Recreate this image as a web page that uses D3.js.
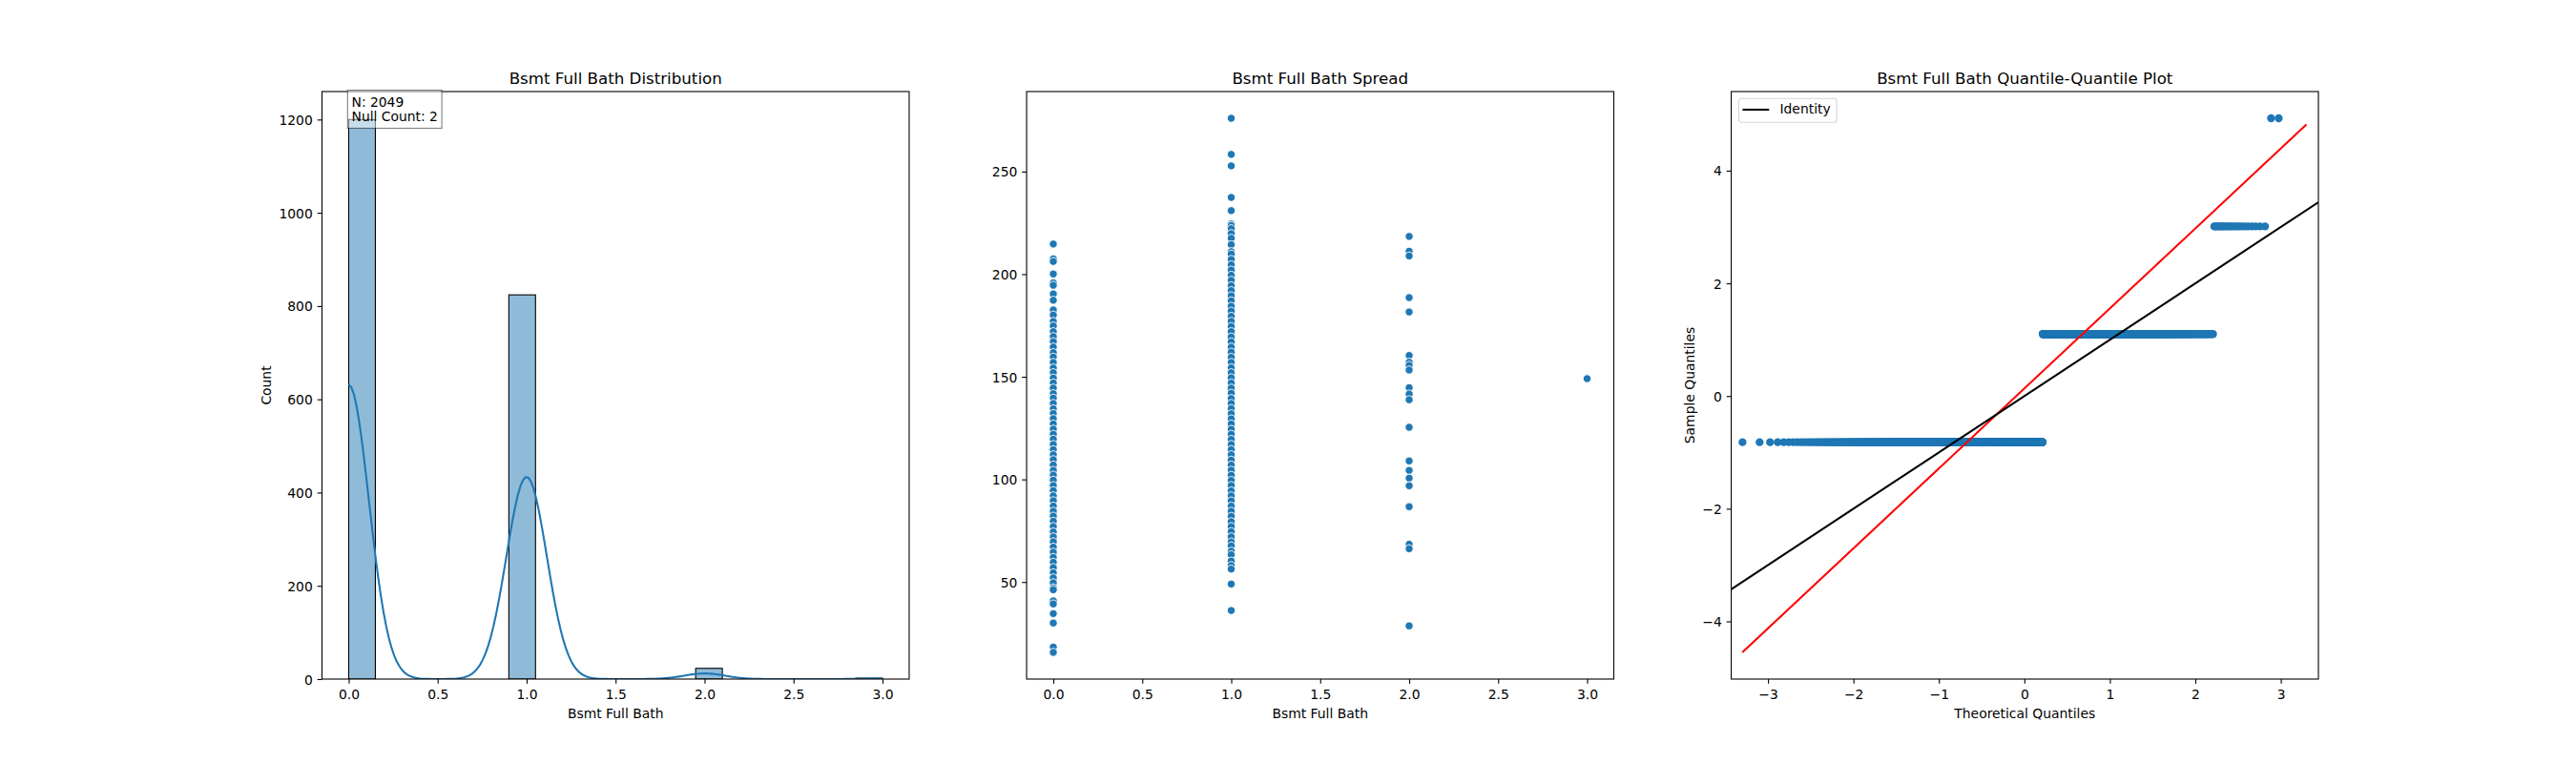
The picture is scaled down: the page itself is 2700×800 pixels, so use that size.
<!DOCTYPE html>
<html>
<head>
<meta charset="utf-8">
<script src="https://cdn.jsdelivr.net/npm/d3@7"></script>
<style>
  body { margin: 0; background: #fff; }
  svg text { font-family: "DejaVu Sans", sans-serif; }
</style>
</head>
<body>
<div id="chart"></div>
<script>
// ---- data ----
const varName = "Bsmt Full Bath";

// histogram: one bar per occupied bin (bin width 0.15 over 0..3)
const histValues = [0, 1, 2, 3];
const histCounts = [1200, 824, 23, 2];
const histBinStarts = [0, 0.9, 1.95, 2.85];
const histBinWidth = 0.15;
const nullCount = 2;
const histXTicks = [0, 0.5, 1, 1.5, 2, 2.5, 3];
const histYTicks = [0, 200, 400, 600, 800, 1000, 1200];

// spread (scatter): y values per Bsmt Full Bath level
const spreadLevels = [0, 1, 2, 3];
const spreadY0 = [214.7, 207.5, 206.2, 200.1, 195.8, 194.6, 190.4, 187.3, 182.6, 180.1, 177.0, 174.8,
  172.0, 169.6, 167.1, 164.5, 161.8, 159.6, 157.0, 154.3, 152.0, 149.4, 147.0, 144.5, 141.8, 139.6,
  137.0, 134.4, 132.1, 129.6, 127.0, 124.5, 122.0, 119.6, 117.0, 114.5, 112.0, 109.6, 107.0, 104.4,
  102.1, 99.6, 97.0, 94.5, 92.0, 89.6, 87.0, 84.5, 82.1, 79.6, 77.0, 74.4, 72.0, 69.6, 67.0, 64.5,
  62.0, 59.6, 57.0, 54.5, 52.0, 49.6, 47.1, 46.2, 40.8, 39.3, 34.6, 30.0, 18.3, 15.7];
const spreadY1 = [276.0, 258.4, 252.8, 237.4, 231.0, 224.5, 223.7, 222.2, 219.8, 217.5, 214.4, 211.0,
  209.8, 207.2, 204.6, 202.0, 199.5, 197.0, 194.4, 192.0, 189.5, 187.0, 184.4, 182.0, 179.5, 177.0,
  174.5, 172.0, 169.4, 167.0, 164.5, 162.0, 159.5, 157.0, 154.4, 152.0, 149.5, 147.0, 144.5, 142.0,
  139.4, 137.0, 134.5, 132.0, 129.5, 127.0, 124.4, 122.0, 119.5, 117.0, 114.5, 112.0, 109.4, 107.0,
  104.5, 102.0, 99.5, 97.0, 94.4, 92.0, 89.5, 87.0, 84.5, 82.0, 79.4, 77.0, 74.5, 72.0, 69.5, 67.6,
  65.0, 63.3, 60.2, 58.0, 56.3, 49.0, 36.1];
const spreadY2 = [218.4, 211.2, 208.9, 188.6, 181.6, 160.4, 157.1, 155.6, 153.3, 144.7, 141.6, 138.8,
  125.4, 109.0, 104.4, 100.6, 96.9, 86.7, 68.4, 66.2, 28.6];
const spreadY3 = [149.1];
const spreadYTicks = [50, 100, 150, 200, 250];

// quantile-quantile: standardised sample levels (same order as histCounts)
const qqSampleLevels = [-0.82, 1.10, 3.01, 4.93];
const qqRedLine = [[-3.30, -4.55], [3.30, 4.82]];
const qqXDomain = [-3.43, 3.44];
const qqXTicks = [-3, -2, -1, 0, 1, 2, 3];
const qqYTicks = [-4, -2, 0, 2, 4];

// ---- layout (matplotlib defaults, 27x8 in @100dpi) ----
const W = 2700, H = 800;
const FS = 13.89, TFS = 16.67, TICK = 4.86, PAD = 4.86;
const axTop = 96, axBottom = 712, axH = axBottom - axTop;
const axW = (0.775 * W) / 3.4, gap = 0.2 * axW;
const axLefts = [0, 1, 2].map(i => 0.125 * W + i * (axW + gap));
const C0 = "#1f77b4";

const svg = d3.select("#chart").append("svg")
  .attr("width", W).attr("height", H);

function panel(i) {
  const g = svg.append("g").attr("transform", `translate(${axLefts[i]},${axTop})`);
  svg.append("clipPath").attr("id", "clip" + i)
    .append("rect").attr("width", axW).attr("height", axH);
  const body = g.append("g").attr("clip-path", `url(#clip${i})`);
  return { g, body };
}

function axes(g, x, y, xTicks, yTicks, xFmt, yFmt, title, xLabel, yLabel) {
  const xa = g.append("g").attr("transform", `translate(0,${axH})`)
    .call(d3.axisBottom(x).tickValues(xTicks).tickFormat(xFmt)
      .tickSizeInner(TICK).tickSizeOuter(0).tickPadding(6.2));
  const ya = g.append("g")
    .call(d3.axisLeft(y).tickValues(yTicks).tickFormat(yFmt)
      .tickSizeInner(TICK).tickSizeOuter(0).tickPadding(PAD));
  [xa, ya].forEach(a => {
    a.select(".domain").remove();
    a.attr("font-family", null).attr("font-size", null);
    a.selectAll("line").attr("stroke", "#000").attr("stroke-width", 1.1);
    a.selectAll("text").attr("fill", "#000").style("font-size", FS + "px");
  });
  ya.selectAll("text").attr("dy", "0.36em");

  // spines
  g.append("rect").attr("width", axW).attr("height", axH)
    .attr("fill", "none").attr("stroke", "#000").attr("stroke-width", 1.1);

  g.append("text").attr("x", axW / 2).attr("y", -8.5)
    .attr("text-anchor", "middle").style("font-size", TFS + "px").text(title);
  g.append("text").attr("x", axW / 2).attr("y", axH + 40.5)
    .attr("text-anchor", "middle").style("font-size", FS + "px").text(xLabel);

  if (yLabel) {
    let maxW = 0;
    ya.selectAll("text").each(function () { maxW = Math.max(maxW, this.getComputedTextLength()); });
    const lx = -(TICK + PAD + maxW + 5.56 + 3.3);
    g.append("text")
      .attr("transform", `translate(${lx},${axH / 2}) rotate(-90)`)
      .attr("text-anchor", "middle").style("font-size", FS + "px").text(yLabel);
  }
}

// ---- 1. distribution ----
{
  const { g, body } = panel(0);
  const x = d3.scaleLinear().domain([-0.15, 3.15]).range([0, axW]);
  const y = d3.scaleLinear().domain([0, d3.max(histCounts) * 1.05]).range([axH, 0]);

  body.selectAll("rect.bar").data(histCounts).enter().append("rect")
    .attr("class", "bar")
    .attr("x", (d, i) => x(histBinStarts[i]))
    .attr("width", x(histBinWidth) - x(0))
    .attr("y", d => y(d))
    .attr("height", d => y(0) - y(d))
    .attr("fill", C0).attr("fill-opacity", 0.5)
    .attr("stroke", "#000").attr("stroke-width", 1.1);

  // gaussian kde (scott bandwidth), scaled to counts like seaborn histplot
  const n = d3.sum(histCounts);
  const mean = d3.sum(histValues, (v, i) => v * histCounts[i]) / n;
  const variance = d3.sum(histValues, (v, i) => histCounts[i] * (v - mean) ** 2) / (n - 1);
  const bw = Math.sqrt(variance) * Math.pow(n, -0.2);
  const grid = d3.range(200).map(k => 3 * k / 199);
  const kde = grid.map(gx => {
    const dens = d3.sum(histValues, (v, i) =>
      histCounts[i] * Math.exp(-0.5 * ((gx - v) / bw) ** 2)) / (n * bw * Math.sqrt(2 * Math.PI));
    return [gx, dens * n * histBinWidth];
  });
  body.append("path").datum(kde)
    .attr("d", d3.line().x(d => x(d[0])).y(d => y(d[1])))
    .attr("fill", "none").attr("stroke", C0).attr("stroke-width", 2.08);

  axes(g, x, y, histXTicks, histYTicks, d3.format(".1f"), d3.format("d"),
    varName + " Distribution", varName, "Count");

  // stats box
  const tb = g.append("g");
  const txt = tb.append("text").style("font-size", FS + "px");
  txt.append("tspan").attr("x", 31).attr("y", 15.7).text("N: " + n);
  txt.append("tspan").attr("x", 31).attr("y", 31.3).text("Null Count: " + nullCount);
  const bb = txt.node().getBBox();
  tb.insert("rect", "text")
    .attr("x", bb.x - 4.17).attr("y", bb.y - 4.17)
    .attr("width", bb.width + 8.34).attr("height", bb.height + 8.34)
    .attr("fill", "#fff").attr("fill-opacity", 0.5)
    .attr("stroke", "#000").attr("stroke-opacity", 0.5).attr("stroke-width", 1.1);
}

// ---- 2. spread ----
{
  const { g, body } = panel(1);
  const groups = [spreadY0, spreadY1, spreadY2, spreadY3];
  const pts = groups.flatMap((ys, i) => ys.map(v => ({ x: spreadLevels[i], y: v })));
  const [lo, hi] = d3.extent(pts, d => d.y);
  const m = (hi - lo) * 0.05;
  const x = d3.scaleLinear().domain([-0.15, 3.15]).range([0, axW]);
  const y = d3.scaleLinear().domain([lo - m, hi + m]).range([axH, 0]);

  body.selectAll("circle").data(pts).enter().append("circle")
    .attr("cx", d => x(d.x)).attr("cy", d => y(d.y)).attr("r", 4.17)
    .attr("fill", C0).attr("stroke", "#fff").attr("stroke-width", 0.9);

  axes(g, x, y, histXTicks, spreadYTicks, d3.format(".1f"), d3.format("d"),
    varName + " Spread", varName, null);
}

// ---- 3. quantile-quantile ----
function probit(p) {
  const a = [-39.69683028665376, 220.9460984245205, -275.9285104469687, 138.3577518672690, -30.66479806614716, 2.506628277459239];
  const b = [-54.47609879822406, 161.5858368580409, -155.6989798598866, 66.80131188771972, -13.28068155288572];
  const c = [-0.007784894002430293, -0.3223964580411365, -2.400758277161838, -2.549732539343734, 4.374664141464968, 2.938163982698783];
  const d = [0.007784695709041462, 0.3224671290700398, 2.445134137142996, 3.754408661907416];
  const pl = 0.02425;
  if (p < pl) {
    const q = Math.sqrt(-2 * Math.log(p));
    return (((((c[0] * q + c[1]) * q + c[2]) * q + c[3]) * q + c[4]) * q + c[5]) / ((((d[0] * q + d[1]) * q + d[2]) * q + d[3]) * q + 1);
  }
  if (p > 1 - pl) {
    const q = Math.sqrt(-2 * Math.log(1 - p));
    return -(((((c[0] * q + c[1]) * q + c[2]) * q + c[3]) * q + c[4]) * q + c[5]) / ((((d[0] * q + d[1]) * q + d[2]) * q + d[3]) * q + 1);
  }
  const q = p - 0.5, r = q * q;
  return (((((a[0] * r + a[1]) * r + a[2]) * r + a[3]) * r + a[4]) * r + a[5]) * q / (((((b[0] * r + b[1]) * r + b[2]) * r + b[3]) * r + b[4]) * r + 1);
}

{
  const { g, body } = panel(2);
  // sorted sample, nulls sit at the end of the plotting positions
  const total = d3.sum(histCounts) + nullCount;
  const pts = [];
  let k = 1;
  qqSampleLevels.forEach((lv, i) => {
    for (let j = 0; j < histCounts[i]; j++, k++) pts.push([probit(k / (total + 1)), lv]);
  });

  const yLo = Math.min(qqRedLine[0][1], d3.min(pts, d => d[1]));
  const yHi = Math.max(qqRedLine[1][1], d3.max(pts, d => d[1]));
  const ym = (yHi - yLo) * 0.05;
  const x = d3.scaleLinear().domain(qqXDomain).range([0, axW]);
  const y = d3.scaleLinear().domain([yLo - ym, yHi + ym]).range([axH, 0]);

  body.append("g").selectAll("circle").data(pts).enter().append("circle")
    .attr("cx", d => x(d[0])).attr("cy", d => y(d[1])).attr("r", 4.17)
    .attr("fill", C0);

  const line = d3.line().x(d => x(d[0])).y(d => y(d[1]));
  body.append("path").datum(qqRedLine).attr("d", line)
    .attr("fill", "none").attr("stroke", "#ff0000").attr("stroke-width", 2.08);
  body.append("path").datum([[qqXDomain[0], qqXDomain[0]], [qqXDomain[1], qqXDomain[1]]]).attr("d", line)
    .attr("fill", "none").attr("stroke", "#000").attr("stroke-width", 2.08);

  axes(g, x, y, qqXTicks, qqYTicks, d3.format("d"), d3.format("d"),
    varName + " Quantile-Quantile Plot", "Theoretical Quantiles", "Sample Quantiles");

  // legend
  const lg = g.append("g").attr("transform", "translate(7.9,7.3)");
  lg.append("rect").attr("width", 102.7).attr("height", 25).attr("rx", 2.8)
    .attr("fill", "#fff").attr("fill-opacity", 0.8)
    .attr("stroke", "#ccc").attr("stroke-opacity", 0.8).attr("stroke-width", 1.1);
  lg.append("line").attr("x1", 4).attr("x2", 31.8).attr("y1", 11.7).attr("y2", 11.7)
    .attr("stroke", "#000").attr("stroke-width", 2.08);
  lg.append("text").attr("x", 43).attr("y", 15.7).style("font-size", FS + "px").text("Identity");
}
</script>
</body>
</html>
